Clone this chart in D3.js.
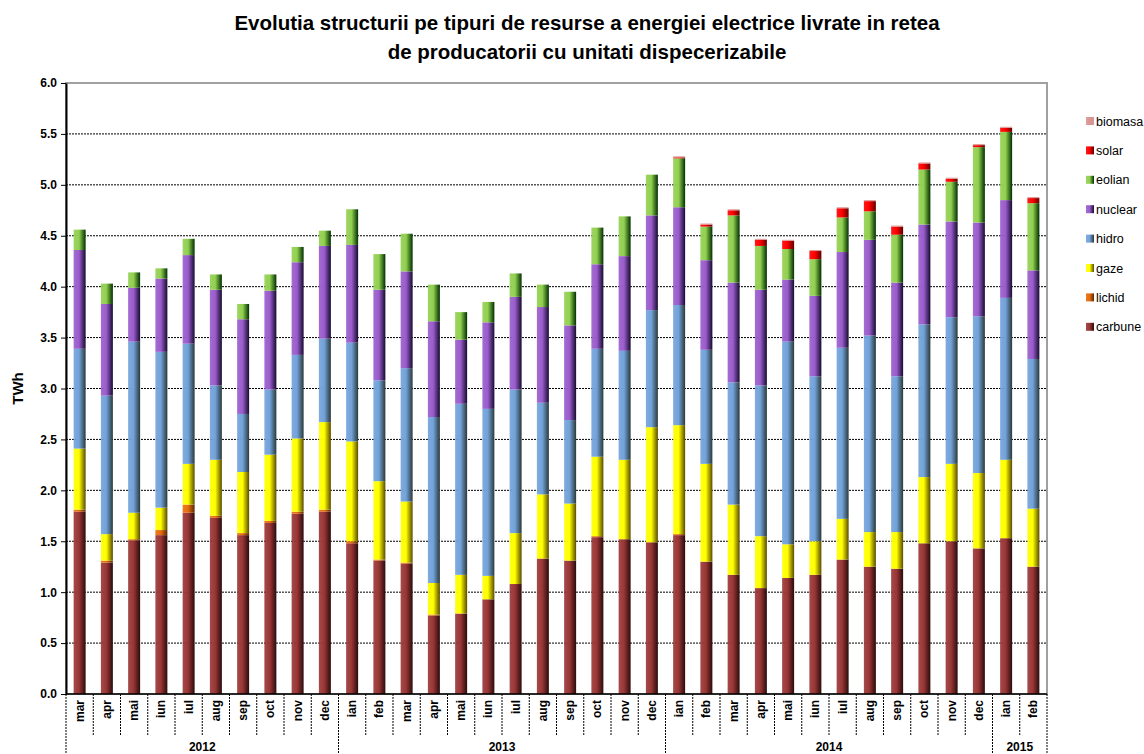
<!DOCTYPE html>
<html>
<head>
<meta charset="utf-8">
<script src="https://cdn.jsdelivr.net/npm/d3@7"></script>
<style>
  body { margin: 0; background: #fff; }
  svg { display: block; }
  text { font-family: "Liberation Sans", Arial, sans-serif; }
</style>
</head>
<body>
<div id="chart"></div>
<script>
// months, grouped by year
var months = ["mar","apr","mai","iun","iul","aug","sep","oct","nov","dec",
    "ian","feb","mar","apr","mai","iun","iul","aug","sep","oct","nov","dec",
    "ian","feb","mar","apr","mai","iun","iul","aug","sep","oct","nov","dec",
    "ian","feb"];
var years = ["2012","2013","2014","2015"];
var yearCounts = [10, 12, 12, 2];

// TWh per resource type
var carbune = [1.79,1.29,1.51,1.56,1.78,1.73,1.56,1.68,1.77,1.79,
    1.48,1.31,1.28,0.77,0.79,0.93,1.08,1.33,1.31,1.54,1.52,1.49,
    1.56,1.30,1.17,1.04,1.14,1.17,1.32,1.25,1.23,1.48,1.50,1.43,
    1.53,1.25];
var lichid = [0.02,0.02,0.01,0.05,0.08,0.02,0.02,0.02,0.02,0.02,
    0.02,0.01,0.01,0.01,0,0,0,0,0,0.01,0,0,
    0.01,0,0,0,0,0,0,0,0,0,0,0,
    0,0];
var gaze = [0.60,0.26,0.26,0.22,0.40,0.55,0.60,0.65,0.72,0.86,
    0.98,0.77,0.60,0.31,0.38,0.23,0.50,0.63,0.56,0.78,0.78,1.13,
    1.07,0.96,0.69,0.51,0.33,0.33,0.40,0.34,0.36,0.65,0.76,0.74,
    0.77,0.57];
var hidro = [0.98,1.36,1.68,1.53,1.18,0.73,0.57,0.64,0.82,0.82,
    0.97,0.99,1.31,1.63,1.68,1.64,1.41,0.90,0.82,1.06,1.07,1.15,
    1.18,1.12,1.20,1.48,1.99,1.62,1.68,1.93,1.53,1.50,1.44,1.54,
    1.59,1.47];
var nuclear = [0.97,0.90,0.53,0.72,0.87,0.94,0.93,0.97,0.91,0.91,
    0.96,0.89,0.95,0.94,0.63,0.85,0.91,0.94,0.93,0.83,0.93,0.93,
    0.96,0.88,0.98,0.94,0.61,0.79,0.94,0.94,0.92,0.98,0.94,0.92,
    0.96,0.87];
var eolian = [0.20,0.20,0.15,0.10,0.16,0.15,0.15,0.16,0.15,0.15,
    0.35,0.35,0.37,0.36,0.27,0.20,0.23,0.22,0.33,0.36,0.39,0.40,
    0.48,0.33,0.66,0.43,0.30,0.36,0.34,0.28,0.47,0.54,0.39,0.74,
    0.67,0.66];
var solar = [0,0,0,0,0,0,0,0,0,0,
    0,0,0,0,0,0,0,0,0,0,0,0,
    0.01,0.02,0.05,0.06,0.08,0.08,0.09,0.10,0.08,0.06,0.03,0.02,
    0.04,0.05];
var biomasa = [0,0,0,0,0,0,0,0,0,0,
    0,0,0,0,0,0,0,0,0,0,0,0,
    0.01,0.01,0.01,0.01,0.01,0.01,0.01,0.01,0.01,0.01,0.01,0.01,
    0.01,0.01];
var yTicks = [0,0.5,1,1.5,2,2.5,3,3.5,4,4.5,5,5.5,6];

var keys = ["carbune","lichid","gaze","hidro","nuclear","eolian","solar","biomasa"];
var colors = {
    carbune: ["#9a3636", "#2a0c0c"],
    lichid:  ["#e86c0c", "#5a2a04"],
    gaze:    ["#ffff00", "#5a4a00"],
    hidro:   ["#72a2da", "#2a3a3a"],
    nuclear: ["#9a5ccc", "#160c30"],
    eolian:  ["#92d050", "#003000"],
    solar:   ["#ff0000", "#600000"],
    biomasa: ["#d99594", "#d99594"]
};

var series = { carbune: carbune, lichid: lichid, gaze: gaze, hidro: hidro,
    nuclear: nuclear, eolian: eolian, solar: solar, biomasa: biomasa };
var table = months.map(function (m, i) {
    var row = { idx: i, month: m };
    keys.forEach(function (k) { row[k] = series[k][i]; });
    return row;
});

var W = 1144, H = 754;
var margin = { top: 83, left: 66, right: 97, bottom: 60 };
var width = W - margin.left - margin.right,
    height = H - margin.top - margin.bottom;

var svg = d3.select("#chart").append("svg")
    .attr("width", W).attr("height", H);

var defs = svg.append("defs");
keys.forEach(function (k) {
    var g = defs.append("linearGradient").attr("id", "g-" + k)
        .attr("x1", "0%").attr("x2", "100%").attr("y1", "0%").attr("y2", "0%");
    g.append("stop").attr("offset", "0%").attr("stop-color", colors[k][0]).attr("stop-opacity", 0.9);
    g.append("stop").attr("offset", "45%").attr("stop-color", colors[k][0]);
    g.append("stop").attr("offset", "100%").attr("stop-color", colors[k][1]);
});

// title
svg.append("text")
    .attr("x", 587).attr("y", 30)
    .attr("text-anchor", "middle")
    .style("font-size", "20.5px").style("font-weight", "bold")
    .text("Evolutia structurii pe tipuri de resurse a energiei electrice livrate in retea");
svg.append("text")
    .attr("x", 587).attr("y", 59)
    .attr("text-anchor", "middle")
    .style("font-size", "20.5px").style("font-weight", "bold")
    .text("de producatorii cu unitati dispecerizabile");

var g = svg.append("g")
    .attr("transform", "translate(" + margin.left + "," + margin.top + ")");

var x = d3.scaleBand()
    .domain(d3.range(months.length))
    .range([0, width])
    .paddingInner(0.56).paddingOuter(0.28);

var y = d3.scaleLinear()
    .domain([0, 6])
    .range([height, 0]);

// plot border
g.append("rect")
    .attr("x", 0).attr("y", 0).attr("width", width).attr("height", height)
    .attr("fill", "none").attr("stroke", "#a0a0a0").attr("stroke-width", 2);

// gridlines
g.append("g").selectAll("line")
    .data(yTicks.filter(function (d) { return d > 0 && d < 6; }))
    .enter().append("line")
    .attr("x1", 0).attr("x2", width)
    .attr("y1", function (d) { return y(d); })
    .attr("y2", function (d) { return y(d); })
    .attr("stroke", "#000").attr("stroke-width", 1)
    .attr("stroke-dasharray", "2,1");

// bars
var stacked = d3.stack().keys(keys)(table);
g.append("g").selectAll("g")
    .data(stacked)
    .enter().append("g")
    .attr("fill", function (d) { return "url(#g-" + d.key + ")"; })
    .selectAll("rect")
    .data(function (d) { return d; })
    .enter().append("rect")
    .attr("x", function (d) { return x(d.data.idx); })
    .attr("width", x.bandwidth())
    .attr("y", function (d) { return y(d[1]); })
    .attr("height", function (d) { return Math.max(0, y(d[0]) - y(d[1])); });

// y axis
var yAxis = g.append("g")
    .call(d3.axisLeft(y).tickValues(yTicks).tickFormat(d3.format(".1f")).tickSize(5).tickSizeOuter(0));
yAxis.select(".domain").attr("stroke", "#000").attr("stroke-width", 2);
yAxis.selectAll("text")
    .style("font-family", "'Liberation Sans Narrow', 'Arial Narrow', 'Liberation Sans', sans-serif")
    .style("font-size", "12px").style("font-weight", "bold").attr("x", -9);

svg.append("text")
    .attr("transform", "translate(23," + (margin.top + height / 2) + ") rotate(-90)")
    .attr("text-anchor", "middle")
    .style("font-size", "15px").style("font-weight", "bold")
    .text("TWh");

// x axis line
g.append("line")
    .attr("x1", 0).attr("x2", width).attr("y1", height).attr("y2", height)
    .attr("stroke", "#000").attr("stroke-width", 1.5);

// month separators
function edge(i) { return x(i) - (x.step() - x.bandwidth()) / 2; }
var bottomGroup = g.append("g").attr("transform", "translate(0," + height + ")");
bottomGroup.selectAll("line.sep")
    .data(d3.range(months.length + 1))
    .enter().append("line")
    .attr("class", "sep")
    .attr("x1", function (i) { return i === 0 ? 0 : (i === months.length ? width : edge(i)); })
    .attr("x2", function (i) { return i === 0 ? 0 : (i === months.length ? width : edge(i)); })
    .attr("y1", 0).attr("y2", 42)
    .attr("stroke", "#000").attr("stroke-width", 1)
    .attr("stroke-dasharray", "2,1");

bottomGroup.selectAll("text.month")
    .data(months)
    .enter().append("text")
    .attr("class", "month")
    .attr("transform", function (d, i) {
        return "translate(" + (x(i) + x.bandwidth() / 2 + 4) + ",6) rotate(-90)";
    })
    .attr("text-anchor", "end")
    .style("font-size", "12px").style("font-weight", "bold")
    .text(function (d) { return d; });

// year groups
var starts = [0];
yearCounts.forEach(function (c, i) { starts.push(starts[i] + c); });
bottomGroup.selectAll("line.year")
    .data(starts)
    .enter().append("line")
    .attr("class", "year")
    .attr("x1", function (i) { return i === 0 ? 0 : (i === months.length ? width : edge(i)); })
    .attr("x2", function (i) { return i === 0 ? 0 : (i === months.length ? width : edge(i)); })
    .attr("y1", 42).attr("y2", 62)
    .attr("stroke", "#000").attr("stroke-width", 1)
    .attr("stroke-dasharray", "2,1");

bottomGroup.selectAll("text.year")
    .data(years)
    .enter().append("text")
    .attr("class", "year")
    .attr("x", function (d, i) {
        var a = starts[i] === 0 ? 0 : edge(starts[i]);
        var b = starts[i + 1] === months.length ? width : edge(starts[i + 1]);
        return (a + b) / 2;
    })
    .attr("y", 57)
    .attr("text-anchor", "middle")
    .style("font-family", "'Liberation Sans Narrow', 'Arial Narrow', 'Liberation Sans', sans-serif")
    .style("font-size", "12px").style("font-weight", "bold")
    .text(function (d) { return d; });

// legend
var legendKeys = keys.slice().reverse();
var legend = svg.append("g").attr("transform", "translate(1086,117)");
var li = legend.selectAll("g")
    .data(legendKeys)
    .enter().append("g")
    .attr("transform", function (d, i) { return "translate(0," + (i * 29.4) + ")"; });
li.append("rect")
    .attr("width", 8).attr("height", 8)
    .attr("fill", function (d) { return "url(#g-" + d + ")"; });
li.append("text")
    .attr("x", 10).attr("y", 8.5)
    .style("font-size", "12.5px")
    .text(function (d) { return d; });
</script>
</body>
</html>
